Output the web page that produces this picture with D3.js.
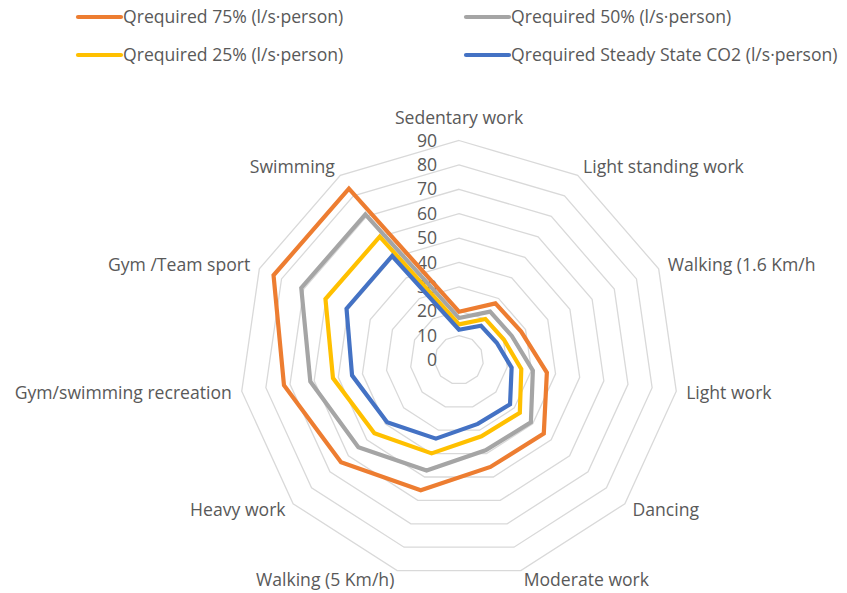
<!DOCTYPE html>
<html>
<head>
<meta charset="utf-8">
<script src="https://cdn.jsdelivr.net/npm/d3@7"></script>
<style>
  body { margin: 0; background: #fff; }
  svg text { font-family: "Open Sans", sans-serif; fill: #595959; }
</style>
</head>
<body>
<svg id="chart" width="847" height="593"></svg>
<script>
// activity categories, clockwise from the top
var categories = ["Sedentary work", "Light standing work", "Walking (1.6 Km/h", "Light work", "Dancing",
  "Moderate work", "Walking (5 Km/h)", "Heavy work", "Gym/swimming recreation", "Gym /Team sport", "Swimming"];

var q75 = [19.8, 27.6, 28.0, 36.4, 46.0, 45.7, 55.7, 64.0, 72.5, 83.6, 83.5];
var q50 = [17.2, 23.6, 23.8, 30.6, 39.0, 38.6, 47.2, 54.6, 61.6, 71.1, 71.0];
var q25 = [14.6, 20.0, 20.2, 25.8, 33.0, 32.6, 39.9, 45.9, 52.2, 60.2, 60.1];
var qSteady = [12.4, 16.7, 17.0, 21.8, 27.7, 27.3, 33.6, 39.0, 44.3, 50.7, 50.7];

var seriesNames = ["Qrequired 75% (l/s\u00b7person)", "Qrequired 50% (l/s\u00b7person)",
  "Qrequired 25% (l/s\u00b7person)", "Qrequired Steady State CO2 (l/s\u00b7person)"];
var seriesColors = ["#ED7D31", "#A5A5A5", "#FFC000", "#4472C4"];

var ticks = [0, 10, 20, 30, 40, 50, 60, 70, 80, 90];

var svg = d3.select("#chart"),
    cx = 459, cy = 360,
    fontSize = "17.6px";

var r = d3.scaleLinear().domain([0, 90]).range([0, 219.5]);
var angle = d3.scaleLinear().domain([0, categories.length]).range([0, 2 * Math.PI]);

var g = svg.append("g").attr("transform", "translate(" + cx + "," + cy + ")");

var radial = d3.lineRadial()
    .angle(function (d, i) { return angle(i); })
    .radius(function (d) { return r(d); })
    .curve(d3.curveLinearClosed);

// grid rings
g.selectAll(".ring")
    .data(ticks.slice(1))
    .enter().append("path")
    .attr("class", "ring")
    .attr("d", function (t) { return radial(categories.map(function () { return t; })); })
    .attr("fill", "none")
    .attr("stroke", "#d9d9d9")
    .attr("stroke-width", 1.3);

// value labels up the vertical axis
g.selectAll(".tick")
    .data(ticks)
    .enter().append("text")
    .attr("x", -22)
    .attr("y", function (t) { return -r(t); })
    .attr("dy", "0.35em")
    .attr("text-anchor", "end")
    .style("font-size", fontSize)
    .text(function (t) { return t; });

// series
var allSeries = [q75, q50, q25, qSteady];
g.selectAll(".series")
    .data(allSeries)
    .enter().append("path")
    .attr("class", "series")
    .attr("d", radial)
    .attr("fill", "none")
    .attr("stroke", function (d, i) { return seriesColors[i]; })
    .attr("stroke-width", 4.2)
    .attr("stroke-linejoin", "miter");

// category labels
g.selectAll(".cat")
    .data(categories)
    .enter().append("text")
    .attr("class", "cat")
    .each(function (name, i) {
        var a = angle(i),
            rr = r(90) + 10,
            x = rr * Math.sin(a),
            y = -rr * Math.cos(a),
            el = d3.select(this);
        if (i === 0) {
            el.attr("x", x).attr("y", y - 7).attr("text-anchor", "middle");
        } else {
            el.attr("x", x).attr("y", y).attr("dy", "0.35em")
              .attr("text-anchor", x > 0 ? "start" : "end");
        }
    })
    .style("font-size", fontSize)
    .text(function (d) { return d; });

// legend
var legendPos = [[78, 17], [466, 17], [78, 55], [466, 55]];
var legend = svg.selectAll(".legend")
    .data(seriesNames)
    .enter().append("g")
    .attr("class", "legend")
    .attr("transform", function (d, i) { return "translate(" + legendPos[i][0] + "," + legendPos[i][1] + ")"; });

legend.append("line")
    .attr("x1", 0).attr("x2", 43)
    .attr("stroke", function (d, i) { return seriesColors[i]; })
    .attr("stroke-width", 4.2)
    .attr("stroke-linecap", "round");

legend.append("text")
    .attr("x", 45)
    .attr("dy", "0.35em")
    .style("font-size", fontSize)
    .text(function (d) { return d; });
</script>
</body>
</html>
